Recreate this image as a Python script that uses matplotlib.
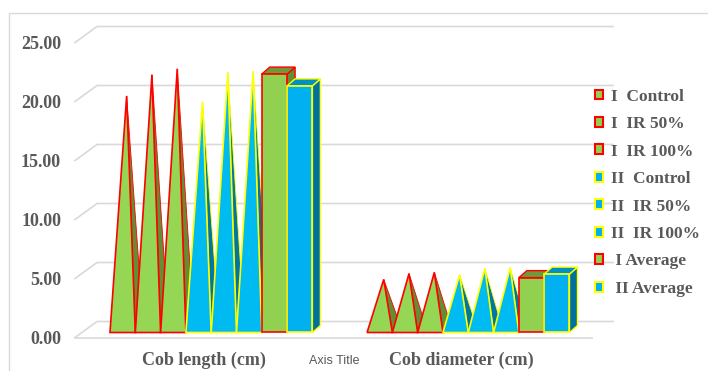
import matplotlib
matplotlib.use("Agg")
import matplotlib.pyplot as plt
from matplotlib.patches import Polygon, Patch
from matplotlib.lines import Line2D

# data
categories = ["Cob length (cm)", "Cob diameter (cm)"]
series = ["I  Control", "I  IR 50%", "I  IR 100%",
          "II  Control", "II  IR 50%", "II  IR 100%",
          " I Average", " II Average"]
cob_length = [19.75, 21.55, 22.05, 19.25, 21.75, 21.85, 21.9, 20.9]
cob_diameter = [4.2, 4.7, 4.8, 4.6, 5.15, 5.2, 4.65, 4.95]
yticks = [0, 5, 10, 15, 20, 25]

values = [cob_length, cob_diameter]
shape = ["pyr"] * 6 + ["bar"] * 2
face = ["#96D655"] * 3 + ["#00BAF2"] * 3 + ["#92D050", "#00B0F0"]
side = ["#638E33"] * 3 + ["#0076A2"] * 3 + ["#638E33", "#00719C"]
top = ["#70993A"] * 3 + ["#0090C4"] * 3 + ["#70993A", "#0090C4"]
edge = ["#FF0000"] * 3 + ["#FFFF00"] * 3 + ["#FF0000", "#FFFF00"]

grid_c = "#D9D9D9"
text_c = "#595959"
serif = "Liberation Serif"

# fake 3d geometry (in data units)
group_step = 10.16      # slots between category starts
base = 0.424            # bar row sits a bit behind the front plane
ddx, ddy = 0.316, 0.593  # bar depth
wdx, wdy = 0.87, 1.356   # floor depth to back wall
xl, xr = -1.383, 19.88

fig = plt.figure(figsize=(7.08, 3.71), dpi=100)
ax = fig.add_axes([75 / 708, 33.5 / 371, 538 / 708, 324.5 / 371])
ax.set_xlim(xl, xr)
ax.set_ylim(0, 27.5)
for s in ax.spines.values():
    s.set_visible(False)

# gridlines on side wall + back wall
for v in yticks:
    ax.plot([xl, xl + wdx, xr], [v, v + wdy, v + wdy], color=grid_c, lw=1.2,
            clip_on=False, zorder=1)
ax.plot([xl, 19.05], [0, 0], color=grid_c, lw=1.2, clip_on=False, zorder=1)

for g, vals in enumerate(values):
    x_start = g * group_step
    for i, v in enumerate(vals):
        x0 = x_start + i
        x1 = x0 + 1
        if shape[i] == "pyr":
            apex = (x0 + 0.5 + ddx / 2, base + ddy / 2 + v)
            ax.add_patch(Polygon([(x1, base), (x1 + ddx, base + ddy), apex],
                                 closed=True, fc=side[i], ec=edge[i], lw=0.6,
                                 zorder=2 + g * 20 + i * 2, clip_on=False))
            ax.add_patch(Polygon([(x0, base), (x1, base), apex], closed=True,
                                 fc=face[i], ec=edge[i], lw=1.2,
                                 zorder=3 + g * 20 + i * 2, clip_on=False))
        else:
            z = 3 + g * 20 + i * 2
            ax.add_patch(Polygon([(x1, base), (x1 + ddx, base + ddy),
                                  (x1 + ddx, base + ddy + v), (x1, base + v)],
                                 closed=True, fc=side[i], ec=edge[i], lw=1.0,
                                 zorder=z - 1, clip_on=False))
            ax.add_patch(Polygon([(x0, base + v), (x1, base + v),
                                  (x1 + ddx, base + ddy + v), (x0 + ddx, base + ddy + v)],
                                 closed=True, fc=top[i], ec=edge[i], lw=1.0,
                                 zorder=z - 1, clip_on=False))
            ax.add_patch(Polygon([(x0, base), (x1, base), (x1, base + v), (x0, base + v)],
                                 closed=True, fc=face[i], ec=edge[i], lw=1.2,
                                 zorder=z, clip_on=False))

# axis labels
ax.set_yticks(yticks)
ax.set_yticklabels([f"{t:.2f}" for t in yticks], fontfamily=serif,
                   fontweight="bold", fontsize=13, color=text_c)
centers = [g * group_step + len(cob_length) / 2 - 0.28 for g in range(len(categories))]
ax.set_xticks(centers)
ax.set_xticklabels(categories, fontfamily=serif, fontweight="bold",
                   fontsize=13, color=text_c)
ax.tick_params(axis="both", length=0)
ax.tick_params(axis="y", pad=10)
ax.tick_params(axis="x", pad=10)
ax.text((centers[0] + centers[1]) / 2 + 0.05, -2.0, "Axis Title", fontsize=9,
        fontfamily="Liberation Sans", color=text_c, ha="center", va="center")

# legend
handles = [Patch(facecolor="#92D050" if i in (0, 1, 2, 6) else "#00B0F0",
                 edgecolor=edge[i], lw=1.5, label=series[i]) for i in range(len(series))]
leg = fig.legend(handles=handles, loc="upper left", bbox_to_anchor=(586 / 708, 1 - 80 / 371),
                 frameon=False, handlelength=0.5, handleheight=0.5, handletextpad=0.45,
                 labelspacing=0.66, borderpad=0,
                 prop={"family": serif, "weight": "bold", "size": 12.5})
for t in leg.get_texts():
    t.set_color(text_c)

# chart border
fig.add_artist(Line2D([9.3 / 708, 9.3 / 708, 1], [0, 1 - 13 / 371, 1 - 13 / 371],
                      color=grid_c, lw=1.0))

fig.savefig("out.png", dpi=100)
